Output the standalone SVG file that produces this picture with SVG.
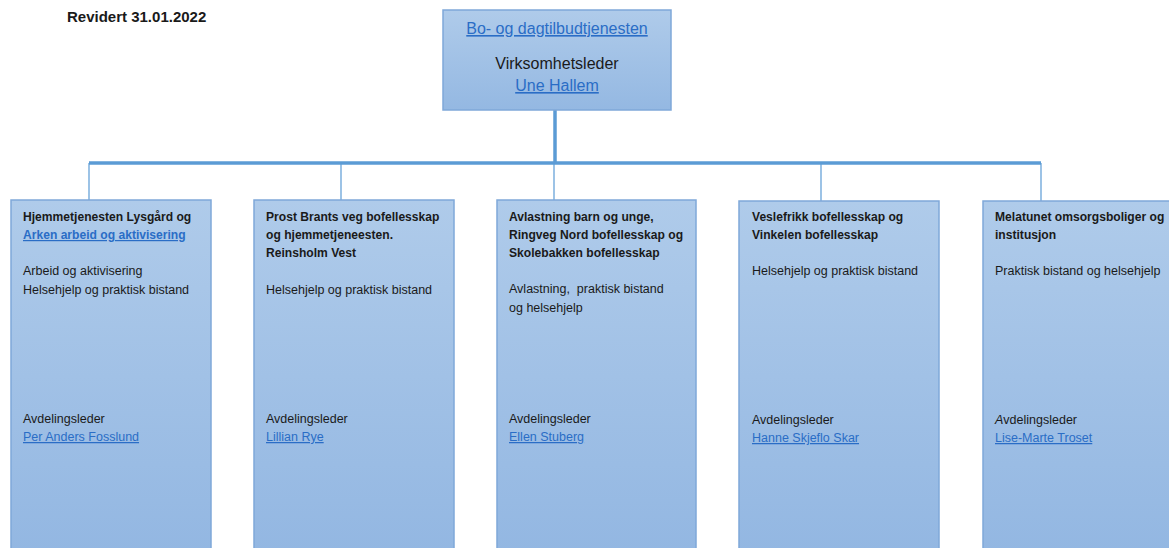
<svg xmlns="http://www.w3.org/2000/svg" width="1169" height="548" viewBox="0 0 1169 548">
<defs>
<linearGradient id="g" x1="0" y1="0" x2="0" y2="1">
<stop offset="0" stop-color="#afcbea"/>
<stop offset="1" stop-color="#93b7e2"/>
</linearGradient>
<linearGradient id="gt" x1="0" y1="0" x2="0" y2="1">
<stop offset="0" stop-color="#afcbea"/>
<stop offset="1" stop-color="#94b8e2"/>
</linearGradient>
</defs>
<style>
.box{fill:url(#g);stroke:#7fa8d9;stroke-width:1.5}
text{font-family:"Liberation Sans",Arial,sans-serif;font-size:12.5px;fill:#1a1a1a}
.b{font-weight:bold;font-size:12.1px}
.l{fill:#2a6dc6;text-decoration:underline}
.big{font-size:16px}
.thick{stroke:#5b9bd5;stroke-width:3.5;fill:none}
.thin{stroke:#5b9bd5;stroke-width:1.2;fill:none}
</style>
<text x="67" y="22" class="b" style="font-size:15px">Revidert 31.01.2022</text>
<g id="connectors">
<line class="thick" x1="555" y1="110" x2="555" y2="163"/>
<line class="thick" x1="89" y1="163" x2="1041" y2="163"/>
<line class="thin" x1="89" y1="163" x2="89" y2="200"/>
<line class="thin" x1="341" y1="163" x2="341" y2="200"/>
<line class="thin" x1="554" y1="163" x2="554" y2="200"/>
<line class="thin" x1="821" y1="163" x2="821" y2="201"/>
<line class="thin" x1="1041" y1="163" x2="1041" y2="201"/>
</g>
<g id="top">
<rect x="443" y="10" width="228" height="100" fill="url(#gt)" stroke="#7fa8d9" stroke-width="1.5"/>
<text x="557" y="34" text-anchor="middle" class="l big">Bo- og dagtilbudtjenesten</text>
<text x="557" y="69" text-anchor="middle" class="big">Virksomhetsleder</text>
<text x="557" y="91" text-anchor="middle" class="l big">Une Hallem</text>
</g>
<g id="n1">
<rect class="box" x="11" y="200" width="200" height="352"/>
<text x="23" y="221" class="b">Hjemmetjenesten Lysgård og</text>
<text x="23" y="239" class="b l">Arken arbeid og aktivisering</text>
<text x="23" y="275">Arbeid og aktivisering</text>
<text x="23" y="294">Helsehjelp og praktisk bistand</text>
<text x="23" y="423">Avdelingsleder</text>
<text x="23" y="441" class="l">Per Anders Fosslund</text>
</g>
<g id="n2">
<rect class="box" x="254" y="200" width="200" height="352"/>
<text x="266" y="221" class="b">Prost Brants veg bofellesskap</text>
<text x="266" y="239" class="b">og hjemmetjeneesten.</text>
<text x="266" y="257" class="b">Reinsholm Vest</text>
<text x="266" y="294">Helsehjelp og praktisk bistand</text>
<text x="266" y="423">Avdelingsleder</text>
<text x="266" y="441" class="l">Lillian Rye</text>
</g>
<g id="n3">
<rect class="box" x="497" y="200" width="199" height="352"/>
<text x="509" y="221" class="b">Avlastning barn og unge,</text>
<text x="509" y="239" class="b">Ringveg Nord bofellesskap og</text>
<text x="509" y="257" class="b">Skolebakken bofellesskap</text>
<text x="509" y="293" xml:space="preserve">Avlastning,  praktisk bistand</text>
<text x="509" y="312">og helsehjelp</text>
<text x="509" y="423">Avdelingsleder</text>
<text x="509" y="441" class="l">Ellen Stuberg</text>
</g>
<g id="n4">
<rect class="box" x="739" y="201" width="200" height="351"/>
<text x="752" y="221" class="b">Veslefrikk bofellesskap og</text>
<text x="752" y="239" class="b">Vinkelen bofellesskap</text>
<text x="752" y="275">Helsehjelp og praktisk bistand</text>
<text x="752" y="424">Avdelingsleder</text>
<text x="752" y="442" class="l">Hanne Skjeflo Skar</text>
</g>
<g id="n5">
<rect class="box" x="983" y="201" width="200" height="351"/>
<text x="995" y="221" class="b">Melatunet omsorgsboliger og</text>
<text x="995" y="239" class="b">institusjon</text>
<text x="995" y="275">Praktisk bistand og helsehjelp</text>
<text x="995" y="424"><tspan font-style="italic">A</tspan>vdelingsleder</text>
<text x="995" y="442" class="l">Lise-Marte Troset</text>
</g>
</svg>
